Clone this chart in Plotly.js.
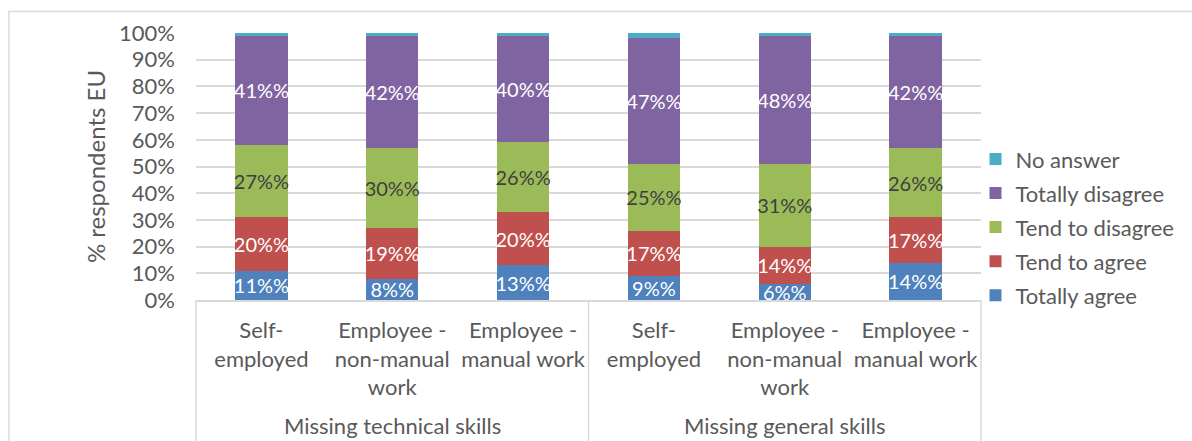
<!DOCTYPE html>
<html>
<head>
<meta charset="utf-8">
<script src="https://cdn.plot.ly/plotly-3.0.1.min.js"></script>
<style>html,body{margin:0;padding:0;background:#fff;}#chart{width:1192px;height:441px;}</style>
</head>
<body>
<div id="chart"></div>
<script>
// Data
const groupLabels = ['Missing technical skills', 'Missing general skills'];
const groups = ['Missing technical skills','Missing technical skills','Missing technical skills',
                'Missing general skills','Missing general skills','Missing general skills'];
const categories = ['Self-<br>employed','Employee -<br>non-manual<br>work','Employee -<br>manual work',
                    'Self-<br>employed','Employee -<br>non-manual<br>work','Employee -<br>manual work'];
const totallyAgree    = [11, 8, 13, 9, 6, 14];
const tendToAgree     = [20, 19, 20, 17, 14, 17];
const tendToDisagree  = [27, 30, 26, 25, 31, 26];
const totallyDisagree = [41, 42, 40, 47, 48, 42];
const noAnswer        = [1, 1, 1, 2, 1, 1];
const seriesNames = ['Totally agree','Tend to agree','Tend to disagree','Totally disagree','No answer'];

// unique category keys (group + category), displayed with the category tick labels
const keys = categories.map((c, i) => groups[i] + ' | ' + c);

const FONT = 'Lato, "Open Sans", sans-serif';
const GREY = '#595959';
const colors = ['#4F81BD','#C0504D','#9BBB59','#8064A2','#4BACC6'];
const labelColors = ['#ffffff','#ffffff','#404040','#ffffff','#ffffff'];
const values = [totallyAgree, tendToAgree, tendToDisagree, totallyDisagree, noAnswer];
const nSeries = values.length;

const traces = values.map((v, i) => ({
  type: 'bar',
  name: seriesNames[i],
  legendgroup: 'g' + i,
  legendrank: nSeries - i,
  x: keys,
  y: v,
  marker: {color: colors[i]},
  texttemplate: i === 4 ? '' : '%{y}%',
  textposition: i === 4 ? 'none' : 'inside',
  insidetextanchor: 'middle',
  textangle: 0,
  constraintext: 'none',
  cliponaxis: true,
  textfont: {family: FONT, size: 20, color: labelColors[i]},
  hoverinfo: 'name+y'
}));

// group label annotations centred under each group of categories
const nGroups = groupLabels.length;
const annotations = groupLabels.map((g, k) => ({
  text: g, xref: 'paper', yref: 'paper',
  x: (k + 0.5) / nGroups, xanchor: 'center',
  y: -0.526, yanchor: 'bottom', showarrow: false, borderpad: 0,
  font: {family: FONT, size: 22, color: GREY}
}));

const shapes = [{
  type: 'rect', xref: 'paper', yref: 'paper',
  x0: -0.2383, x1: 2, y0: -2, y1: 1.0805,
  line: {color: '#d9d9d9', width: 1.5}, fillcolor: 'rgba(0,0,0,0)', layer: 'below'
}];
for (let k = 0; k <= nGroups; k++) {
  shapes.push({
    type: 'line', xref: 'paper', yref: 'paper',
    x0: k / nGroups, x1: k / nGroups, y0: 0, y1: -1,
    line: {color: '#d9d9d9', width: 1.5}
  });
}

const layout = {
  width: 1192, height: 441,
  margin: {l: 196, r: 209, t: 33, b: 141, pad: 0},
  paper_bgcolor: '#ffffff', plot_bgcolor: '#ffffff',
  barmode: 'stack',
  bargap: 0.6,
  font: {family: FONT, size: 22, color: GREY},
  showlegend: true,
  legend: {
    x: 0.993, xanchor: 'left', y: 0.273, yanchor: 'middle',
    traceorder: 'grouped', tracegroupgap: 2.5,
    font: {family: FONT, size: 22, color: GREY},
    itemwidth: 30, bgcolor: 'rgba(0,0,0,0)'
  },
  xaxis: {
    type: 'category',
    tickvals: keys, ticktext: categories,
    showline: true, linecolor: '#d9d9d9', linewidth: 1.5,
    showgrid: false, ticks: '', ticklabelstandoff: 10,
    tickfont: {family: FONT, size: 22, color: GREY},
    tickangle: 0
  },
  yaxis: {
    range: [0, 100], dtick: 10, ticksuffix: '%',
    showgrid: true, gridcolor: '#d9d9d9', gridwidth: 1.5,
    zeroline: false, showline: false, ticks: '',
    ticklabelstandoff: 20,
    tickfont: {family: FONT, size: 22, color: GREY},
    title: {text: '% respondents EU', font: {family: FONT, size: 24, color: GREY}, standoff: 6}
  },
  annotations: annotations,
  shapes: shapes
};

Plotly.newPlot('chart', traces, layout, {displayModeBar: false, responsive: false});
</script>
</body>
</html>
